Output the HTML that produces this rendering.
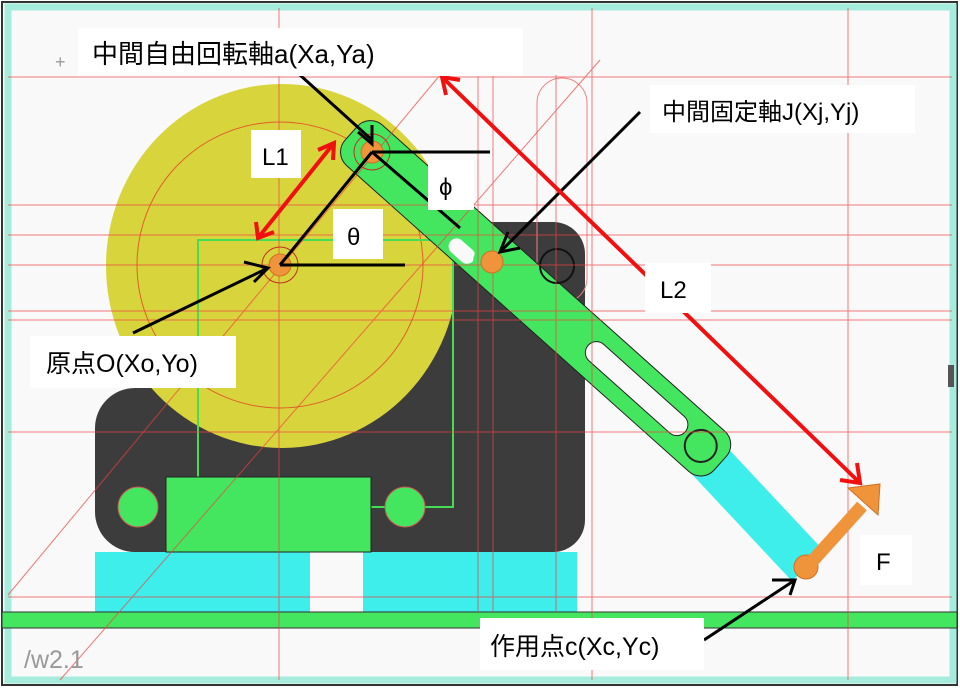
<!DOCTYPE html>
<html><head><meta charset="utf-8"><style>
html,body{margin:0;padding:0;background:#fff;}
svg{display:block;}
text{font-family:"Liberation Sans","Noto Sans CJK JP",sans-serif;}
</style></head><body>
<svg width="960" height="689" viewBox="0 0 960 689">
<rect x="0" y="0" width="960" height="689" fill="#fff"/>
<rect x="2" y="2" width="955" height="683" fill="#f9f9f9" stroke="#333" stroke-width="2"/>
<rect x="8" y="7" width="945" height="673" fill="none" stroke="#a6ecdc" stroke-width="7"/>
<g fill="#3c3c3c">
<rect x="95" y="388" width="490" height="164" rx="40"/>
<rect x="440" y="222" width="145" height="330" rx="32"/>
<rect x="400" y="280" width="60" height="130"/>
</g>
<clipPath id="c1"><rect x="0" y="0" width="452" height="700"/></clipPath>
<ellipse cx="282" cy="266" rx="176" ry="182" fill="#d8d43c" clip-path="url(#c1)"/>
<circle cx="280" cy="265" r="143" fill="none" stroke="#e0602a" stroke-width="1"/>
<rect x="198" y="240" width="255" height="267" fill="none" stroke="#44dd55" stroke-width="2"/>
<rect x="95" y="552" width="215" height="60" fill="#3eeeea"/>
<rect x="363" y="552" width="214" height="60" fill="#3eeeea"/>
<rect x="166" y="477" width="205" height="75" fill="#44e660" stroke="#222" stroke-width="1"/>
<circle cx="138" cy="507" r="20" fill="#44e660" stroke="#c55" stroke-width="1"/>
<circle cx="405" cy="507" r="20" fill="#44e660" stroke="#c55" stroke-width="1"/>
<rect x="2" y="612" width="955" height="16" fill="#44e660" stroke="#333" stroke-width="1"/>
<rect x="537" y="78" width="50" height="225" rx="25" fill="none" stroke="#f08080" stroke-width="1"/>
<line x1="690" y1="440" x2="808" y2="566" stroke="#3eeeea" stroke-width="44"/>
<g transform="translate(372,152) rotate(41.8)">
<rect x="-28" y="-27" width="495" height="54" rx="18" fill="#44e660" stroke="#222" stroke-width="1"/>
<rect x="118" y="6" width="30" height="16" rx="8" fill="#f9f9f9"/>
<rect x="290" y="-11" width="130" height="22" rx="11" fill="#f9f9f9" stroke="#222" stroke-width="1"/>
<circle cx="441" cy="0" r="16" fill="#44e660" stroke="#222" stroke-width="2"/>
</g>
<circle cx="493" cy="262" r="20" fill="#44e660"/>
<circle cx="557" cy="266" r="17" fill="none" stroke="#111" stroke-width="2"/>
<g stroke="#f04040" stroke-width="1" opacity="0.7">
<line x1="279" y1="8" x2="279" y2="680"/>
<line x1="478" y1="75" x2="478" y2="612"/>
<line x1="493" y1="75" x2="493" y2="612"/>
<line x1="556" y1="75" x2="556" y2="612"/>
<line x1="592" y1="8" x2="592" y2="680"/>
<line x1="848" y1="8" x2="848" y2="680"/>
<line x1="8" y1="77" x2="952" y2="77"/>
<line x1="8" y1="205" x2="952" y2="205"/>
<line x1="8" y1="235" x2="952" y2="235"/>
<line x1="8" y1="265" x2="952" y2="265"/>
<line x1="8" y1="311" x2="952" y2="311"/>
<line x1="8" y1="320" x2="952" y2="320"/>
<line x1="8" y1="432" x2="952" y2="432"/>
<line x1="8" y1="597" x2="952" y2="597"/>
<line x1="8" y1="595" x2="440" y2="75"/>
<line x1="60" y1="680" x2="600" y2="60"/>
</g>
<g fill="#f0943c" stroke="#d07020" stroke-width="1">
<circle cx="372" cy="152" r="11"/><circle cx="280" cy="265" r="11"/><circle cx="492" cy="262" r="11"/><circle cx="806" cy="567" r="12"/>
</g>
<circle cx="372" cy="152" r="18" fill="none" stroke="#c03020"/>
<circle cx="280" cy="265" r="18" fill="none" stroke="#c03020"/>
<g>
<line x1="808" y1="566" x2="862" y2="506" stroke="#f0943c" stroke-width="13"/>
<polygon points="848,488 880,484 878,515" fill="#f0943c" stroke="#d07020"/>
</g>
<g stroke="#000" stroke-width="3" fill="none">
<line x1="300" y1="75" x2="372" y2="140"/><polyline points="358,132 372,144 372,125"/>
<line x1="372" y1="152" x2="490" y2="152"/>
<line x1="372" y1="152" x2="460" y2="228"/>
<line x1="372" y1="152" x2="280" y2="265"/>
<line x1="280" y1="265" x2="405" y2="265"/>
<line x1="133" y1="333" x2="268" y2="268"/><polyline points="244,262 268,268 254,282"/>
<line x1="640" y1="112" x2="500" y2="252"/><polyline points="508,232 500,252 520,248"/>
<line x1="704" y1="640" x2="795" y2="580"/><polyline points="772,580 795,580 790,595"/>
</g>
<g stroke="#f01010" stroke-width="4" fill="none">
<line x1="334" y1="143" x2="258" y2="238"/><polyline points="318,150 334,143 333,160"/><polyline points="256,222 258,238 274,232"/>
<line x1="442" y1="77" x2="860" y2="483"/><polyline points="446,95 442,77 460,80"/><polyline points="840,480 860,483 857,463"/>
</g>
<rect x="78" y="28" width="445" height="48" fill="#fff"/>
<text x="92" y="63" font-size="26">中間自由回転軸a(Xa,Ya)</text>
<rect x="650" y="85" width="265" height="48" fill="#fff"/>
<text x="662" y="120" font-size="24">中間固定軸J(Xj,Yj)</text>
<rect x="251" y="130" width="50" height="48" fill="#fff"/>
<text x="262" y="165" font-size="24">L1</text>
<rect x="428" y="160" width="46" height="50" fill="#fff"/>
<text x="439" y="195" font-size="24">ϕ</text>
<rect x="333" y="209" width="50" height="50" fill="#fff"/>
<text x="347" y="245" font-size="24">θ</text>
<rect x="645" y="263" width="66" height="50" fill="#fff"/>
<text x="660" y="298" font-size="24">L2</text>
<rect x="30" y="336" width="206" height="52" fill="#fff"/>
<text x="46" y="372" font-size="25">原点O(Xo,Yo)</text>
<rect x="860" y="535" width="52" height="50" fill="#fff"/>
<text x="876" y="570" font-size="24">F</text>
<rect x="480" y="618" width="224" height="52" fill="#fff"/>
<text x="490" y="655" font-size="25">作用点c(Xc,Yc)</text>
<text x="24" y="668" font-size="25" fill="#999">/w2.1</text>
<text x="55" y="68" font-size="18" fill="#999">+</text>
<rect x="948" y="365" width="6" height="22" fill="#555"/>
</svg>
</body></html>
